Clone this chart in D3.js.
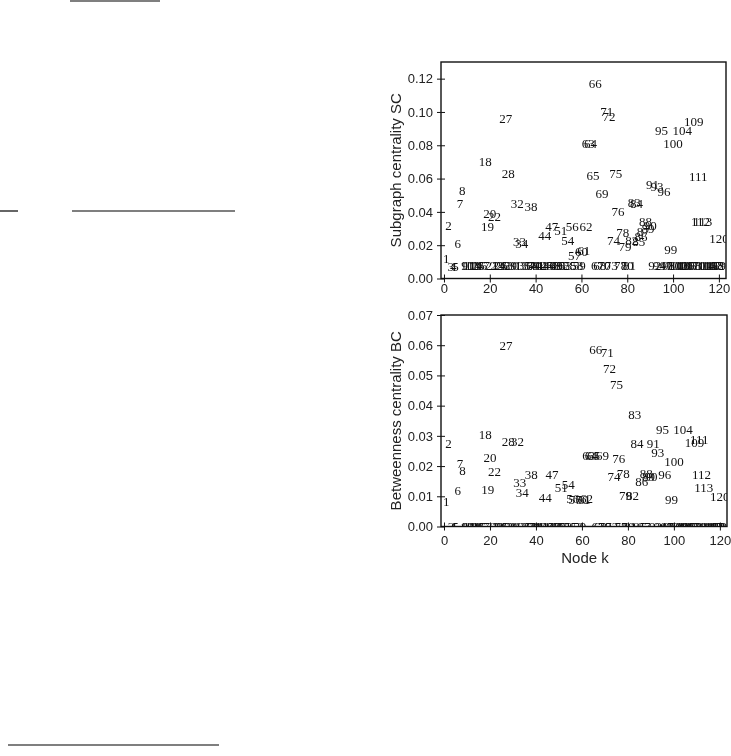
<!DOCTYPE html>
<html><head><meta charset="utf-8">
<script src="https://cdn.jsdelivr.net/npm/d3@7"></script>
<style>body{margin:0;background:#fff} svg{filter:grayscale(100%)}</style>
</head><body><svg id="c" width="731" height="756"></svg>
<script>
// Node index k
const nodes = [1,2,3,4,5,6,7,8,9,10,11,12,13,14,15,16,17,18,19,20,
 21,22,23,24,25,26,27,28,29,30,31,32,33,34,35,36,37,38,39,40,
 41,42,43,44,45,46,47,48,49,50,51,52,53,54,55,56,57,58,59,60,
 61,62,63,64,65,66,67,68,69,70,71,72,73,74,75,76,77,78,79,80,
 81,82,83,84,85,86,87,88,89,90,91,92,93,94,95,96,97,98,99,100,
 101,102,103,104,105,106,107,108,109,110,111,112,113,114,115,116,117,118,119,120,121];

// Subgraph centrality SC for each node
const scValues = [0.012,0.032,0.0075,0.0075,0.0075,0.021,0.045,0.053,0.008,0.008,
 0.008,0.008,0.008,0.008,0.008,0.008,0.008,0.070,0.031,0.039,
 0.008,0.037,0.008,0.008,0.008,0.008,0.096,0.063,0.008,0.008,
 0.008,0.045,0.022,0.021,0.008,0.008,0.008,0.043,0.008,0.008,
 0.008,0.008,0.008,0.026,0.008,0.008,0.031,0.008,0.008,0.008,
 0.029,0.008,0.008,0.023,0.008,0.0315,0.014,0.008,0.008,0.016,
 0.017,0.0315,0.081,0.081,0.062,0.117,0.008,0.008,0.051,0.008,
 0.100,0.097,0.008,0.023,0.063,0.040,0.008,0.0275,0.019,0.008,
 0.008,0.023,0.0455,0.045,0.022,0.025,0.028,0.0345,0.030,0.032,
 0.0565,0.008,0.055,0.008,0.089,0.052,0.008,0.008,0.0175,0.081,
 0.008,0.008,0.008,0.089,0.008,0.008,0.008,0.008,0.094,0.008,
 0.061,0.034,0.034,0.008,0.008,0.008,0.008,0.008,0.008,0.024,0.008];

// Betweenness centrality BC for each node
const bcValues = [0.0084,0.0276,0,0,0,0.012,0.021,0.0186,0,0,
 0,0,0,0,0,0,0,0.0304,0.0124,0.0227,
 0,0.0183,0,0,0,0,0.060,0.0282,0,0,
 0,0.0282,0.0146,0.0113,0,0,0,0.0172,0,0,
 0,0,0,0.0095,0,0,0.0172,0,0,0,
 0.0128,0,0,0.0139,0,0.0092,0.009,0,0,0.0088,
 0.0088,0.0092,0.0234,0.0234,0.0234,0.0585,0,0,0.0234,0,
 0.0576,0.0524,0,0.0164,0.0469,0.0224,0,0.0177,0.0102,0,
 0,0.0102,0.037,0.0274,0,0.015,0,0.0177,0.0165,0.0165,
 0.0274,0,0.0244,0,0.032,0.0172,0,0,0.0091,0.0216,
 0,0,0,0.032,0,0,0,0,0.0278,0,
 0.0287,0.0172,0.0128,0,0,0,0,0,0,0.0099,0];

const xTicks = [0,20,40,60,80,100,120];
const scTicks = [0.00,0.02,0.04,0.06,0.08,0.10,0.12];
const bcTicks = [0.00,0.01,0.02,0.03,0.04,0.05,0.06,0.07];
const scTitle = "Subgraph centrality SC";
const bcTitle = "Betweenness centrality BC";
const xTitle = "Node k";

const svg = d3.select("#c");
svg.append("rect").attr("width",731).attr("height",756).attr("fill","#fff");

// stray scan lines on the page
const strayLines = [[70,160,1],[0,18,211],[72,235,211],[8,219,745]];
svg.selectAll("line.stray").data(strayLines).join("line")
  .attr("x1",d=>d[0]).attr("x2",d=>d[1]).attr("y1",d=>d[2]).attr("y2",d=>d[2])
  .attr("stroke","#000").attr("stroke-width",1.2);

const sans = "'Liberation Sans', Arial, sans-serif";
const serif = "'Liberation Serif', 'Times New Roman', serif";

function panel(opt){
  const {id,top,bottom,left,right,ydomain,values,yTicks,title,xPad,showXTitle} = opt;
  const x = d3.scaleLinear().domain([-1.3,123.1]).range([left,right]);
  const y = d3.scaleLinear().domain(ydomain).range([bottom,top]);
  const g = svg.append("g");
  g.append("clipPath").attr("id",id).append("rect")
    .attr("x",left).attr("y",top).attr("width",right-left).attr("height",bottom-top);

  // labels as markers
  g.append("g").attr("clip-path",`url(#${id})`)
    .selectAll("text").data(nodes).join("text")
    .attr("x",(d,i)=>x(d)).attr("y",(d,i)=>y(values[i]))
    .attr("text-anchor","middle").attr("dominant-baseline","central")
    .attr("font-family",serif).attr("font-size",13).attr("fill","#111")
    .text(d=>d);

  // frame
  g.append("rect").attr("x",left).attr("y",top).attr("width",right-left).attr("height",bottom-top)
    .attr("fill","none").attr("stroke","#111").attr("stroke-width",1.4);

  const ya = g.append("g").attr("transform",`translate(${left},0)`)
    .call(d3.axisLeft(y).tickValues(yTicks).tickFormat(d3.format(".2f")).tickSize(4).tickSizeOuter(0).tickPadding(4));
  ya.select(".domain").remove();
  ya.selectAll(".tick line").attr("x1",4).attr("stroke","#111");
  ya.selectAll("text").attr("font-family",sans).attr("font-size",13).attr("fill","#222");

  const xa = g.append("g").attr("transform",`translate(0,${bottom})`)
    .call(d3.axisBottom(x).tickValues(xTicks).tickSize(4).tickSizeOuter(0).tickPadding(xPad));
  xa.select(".domain").remove();
  xa.selectAll(".tick line").attr("y1",-4).attr("stroke","#111");
  xa.selectAll("text").attr("font-family",sans).attr("font-size",13).attr("fill","#222");

  g.append("text").attr("transform",`translate(401,${(top+bottom)/2}) rotate(-90)`)
    .attr("text-anchor","middle").attr("font-family",sans).attr("font-size",15).attr("fill","#222")
    .text(title);

  if(showXTitle){
    g.append("text").attr("x",585).attr("y",563).attr("text-anchor","middle")
      .attr("font-family",sans).attr("font-size",15).attr("fill","#222")
      .style("white-space","pre").text(xTitle);
  }
}

panel({id:"clipTop",top:62,bottom:278.5,left:441,right:726,ydomain:[0,0.13],values:scValues,
  yTicks:scTicks,title:scTitle,xPad:1,showXTitle:false});
panel({id:"clipBot",top:315,bottom:526.5,left:441,right:727,ydomain:[0,0.07],values:bcValues,
  yTicks:bcTicks,title:bcTitle,xPad:5,showXTitle:true});
</script>
</body></html>
